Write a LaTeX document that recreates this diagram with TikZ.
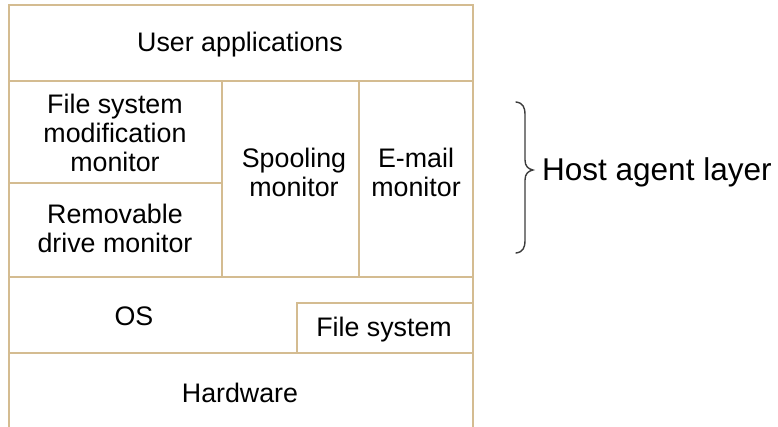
\documentclass[tikz,border=0pt]{standalone}
\usepackage{fontspec}
\setmainfont{Liberation Sans}
\definecolor{linec}{RGB}{212,188,145}
\definecolor{bracec}{RGB}{60,60,60}
\begin{document}
\begin{tikzpicture}[x=1pt,y=-1pt,
  grid/.style={draw=linec, line width=1.5pt},
  lbl/.style={font=\fontsize{26.8}{29}\selectfont, align=center, text=black, inner sep=0pt},
  bracestyle/.style={draw=bracec, line width=1.4pt, line cap=round}]
\useasboundingbox (0,0) rectangle (778,427);
% layer grid
\draw[grid] (9,427) -- (9,5) -- (473,5) -- (473,427);
\draw[grid] (9,81) -- (473,81);
\draw[grid] (9,277) -- (473,277);
\draw[grid] (9,353) -- (473,353);
\draw[grid] (222,81) -- (222,277);
\draw[grid] (359,81) -- (359,277);
\draw[grid] (9,183) -- (222,183);
\draw[grid] (297,353) -- (297,303) -- (473,303);
% labels
\node[lbl] (user) at (240,45) {User applications};
\node[lbl] (fsmod) at (115,133) {File system\\modification\\monitor};
\node[lbl] (remov) at (115,228) {Removable\\drive monitor};
\node[lbl] (spool) at (294,172) {Spooling\\monitor};
\node[lbl] (email) at (416,172) {E-mail\\monitor};
\node[lbl] (os) at (134,316) {OS};
\node[lbl] (fs) at (384,330) {File system};
\node[lbl] (hw) at (240,393) {Hardware};
% brace
\coordinate (btop) at (516,102);
\coordinate (bbot) at (516,253);
\coordinate (btip) at (533,170);
\draw[bracestyle] (btop) .. controls (523,103) and (525,107) .. (525,115)
  -- (525,160) .. controls (525,166) and (528,169) .. (btip)
  .. controls (528,171) and (525,174) .. (525,180)
  -- (525,240) .. controls (525,248) and (523,252) .. (bbot);
\node[font=\fontsize{31.5}{35}\selectfont, anchor=base west, inner sep=0pt] (host) at (542,181) {Host agent layer};
\end{tikzpicture}
\end{document}
